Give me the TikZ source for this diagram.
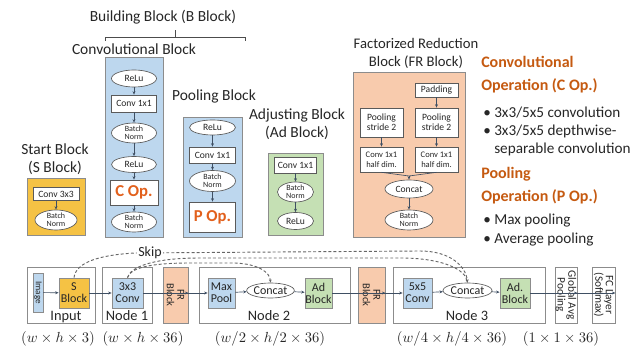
\documentclass[tikz,border=0pt]{standalone}
\usepackage{fontspec}
\setmainfont{Carlito}
\usetikzlibrary{shapes.geometric,arrows.meta}
\definecolor{cblue}{HTML}{BDD7EE}
\definecolor{cgold}{HTML}{F5C244}
\definecolor{cgreen}{HTML}{C5E0B4}
\definecolor{corange}{HTML}{F8CBAD}
\definecolor{opc}{HTML}{C55A11}
\definecolor{opbox}{HTML}{E2601C}
\definecolor{frame}{HTML}{8C8C8C}
\definecolor{innerc}{HTML}{5A5A5A}
\definecolor{txt}{HTML}{262626}
\definecolor{arrowc}{HTML}{3F4F63}
\begin{document}
\begin{tikzpicture}[x=0.75pt,y=-0.75pt,
  every node/.style={inner sep=0pt, text=txt},
  wh/.style 2 args={minimum width=#1*0.75pt, minimum height=#2*0.75pt},
  cont/.style={draw=frame, line width=0.6pt},
  ibox/.style={rectangle, draw=innerc, fill=white, line width=0.5pt, align=center,
    font=\fontsize{7.2}{7.4}\selectfont},
  iell/.style={ellipse, draw=innerc, fill=white, line width=0.5pt, align=center,
    font=\fontsize{7.2}{7.4}\selectfont},
  bn/.style={iell, font=\fontsize{6}{5.8}\selectfont},
  opnode/.style={rectangle, draw=innerc, fill=white, line width=0.5pt,
    font=\fontsize{12.5}{13}\selectfont\bfseries, text=opbox},
  arr/.style={-{Stealth[length=2.6pt,width=2.2pt]}, draw=arrowc, line width=0.5pt},
  title/.style={font=\fontsize{11.6}{13.5}\selectfont, align=center},
  bblk/.style={rectangle, draw=frame, line width=0.6pt, align=center,
    font=\fontsize{9}{9}\selectfont},
  vblk/.style={bblk, rotate=-90, font=\fontsize{8}{8}\selectfont},
  lbl/.style={font=\fontsize{10.8}{11}\selectfont},
  dimlbl/.style={font=\fontsize{10.5}{12}\selectfont},
  head/.style={anchor=west, font=\fontsize{12}{14}\selectfont\bfseries, text=opc},
  bul/.style={anchor=west, font=\fontsize{11.4}{13}\selectfont},
  skipline/.style={draw=black!60, line width=0.7pt, dash pattern=on 2.2pt off 1.6pt}
]
\useasboundingbox (0,0) rectangle (636,352);

% ---------- building block heading and brace ----------
\node[title] (bbt) at (163,17) {Building Block (B Block)};
\draw[draw=black!70, line width=0.5pt] (105,41) -- (105,37) -- (245,37) -- (245,41);
\draw[draw=black!70, line width=0.5pt] (175,37) -- (175,30);

% ---------- start block ----------
\node[title] (sbt) at (55,159) {Start Block\\(S Block)};
\draw[cont, fill=cgold] (27,178) rectangle (85,235);
\node[ibox, wh={46}{13}] (s1) at (56,194) {Conv 3x3};
\node[bn, wh={42}{20}] (s2) at (56,220) {Batch\\Norm};
\draw[arr] (s1) -- (s2);

% ---------- convolutional block ----------
\node[title] (cbt) at (134,49) {Convolutional Block};
\draw[cont, fill=cblue] (105,57) rectangle (163,237);
\node[iell, wh={45}{17}] (c1) at (134,78.5) {ReLu};
\node[ibox, wh={45}{17}] (c2) at (134,103.5) {Conv 1x1};
\node[bn, wh={45}{20}] (c3) at (134,133) {Batch\\Norm};
\node[iell, wh={45}{16}] (c4) at (134,164.5) {ReLu};
\node[opnode, wh={48}{25}] (c5) at (134,192.5) {C Op.};
\node[bn, wh={45}{20}] (c6) at (134,222) {Batch\\Norm};
\draw[arr] (c1) -- (c2);
\draw[arr] (c2) -- (c3);
\draw[arr] (c3) -- (c4);
\draw[arr] (c4) -- (c5);
\draw[arr] (c5) -- (c6);

% ---------- pooling block ----------
\node[title] (pbt) at (214,96) {Pooling Block};
\draw[cont, fill=cblue] (183,117) rectangle (242,237);
\node[iell, wh={46}{15}] (p1) at (212.5,127.5) {ReLu};
\node[ibox, wh={46}{16}] (p2) at (212.5,155) {Conv 1x1};
\node[bn, wh={46}{21}] (p3) at (212.5,181) {Batch\\Norm};
\node[opnode, wh={46}{30}] (p4) at (212.5,217) {P Op.};
\draw[arr] (p1) -- (p2);
\draw[arr] (p2) -- (p3);
\draw[arr] (p3) -- (p4);

% ---------- adjusting block ----------
\node[title] (abt) at (297,124) {Adjusting Block\\(Ad Block)};
\draw[cont, fill=cgreen] (268,153) rectangle (323,235);
\node[ibox, wh={42}{16}] (a1) at (295.5,165) {Conv 1x1};
\node[bn, wh={36}{20}] (a2) at (295.5,192) {Batch\\Norm};
\node[iell, wh={36}{17}] (a3) at (295.5,221) {ReLu};
\draw[arr] (a1) -- (a2);
\draw[arr] (a2) -- (a3);

% ---------- factorized reduction block ----------
\node[title, font=\fontsize{11}{13.5}\selectfont] (frt) at (416,53) {Factorized Reduction\\Block (FR Block)};
\draw[cont, fill=corange] (353,72) rectangle (465,237);
\node[ibox, wh={43}{14}] (f0) at (436.5,90) {Padding};
\node[ibox, wh={43}{29}] (f1) at (381.5,122.5) {Pooling\\stride 2};
\node[ibox, wh={43}{29}] (f2) at (436.5,122.5) {Pooling\\stride 2};
\node[ibox, wh={43}{25}, font=\fontsize{6.4}{7.2}\selectfont] (f3) at (381.5,159.5) {Conv 1x1\\half dim.};
\node[ibox, wh={43}{25}, font=\fontsize{6.4}{7.2}\selectfont] (f4) at (436.5,159.5) {Conv 1x1\\half dim.};
\node[iell, wh={48}{18}] (f5) at (409,189) {Concat};
\node[bn, wh={48}{20}] (f6) at (409,220) {Batch\\Norm};
\draw[arr] (f0) -- (f2);
\draw[arr] (f1) -- (f3);
\draw[arr] (f2) -- (f4);
\draw[arrowc, line width=0.5pt] (f3.south) -- (409,176);
\draw[arrowc, line width=0.5pt] (f4.south) -- (409,176);
\draw[arr] (409,176) -- (f5.north);
\draw[arr] (f5) -- (f6);

% ---------- operation lists ----------
\node[head] (h1) at (481,62) {Convolutional};
\node[head] (h2) at (481,86) {Operation (C Op.)};
\node[bul] (b1) at (483,113) {\textbullet\ 3x3/5x5 convolution};
\node[bul] (b2) at (483,131) {\textbullet\ 3x3/5x5 depthwise-};
\node[bul] (b3) at (494,149) {separable convolution};
\node[head] (h3) at (481,174) {Pooling};
\node[head] (h4) at (481,197) {Operation (P Op.)};
\node[bul] (b4) at (483,221) {\textbullet\ Max pooling};
\node[bul] (b5) at (483,240) {\textbullet\ Average pooling};

% ---------- network: containers ----------
\draw[cont] (27,267) rectangle (95,323);
\draw[cont] (102,267) rectangle (152,323);
\draw[cont] (199,267) rectangle (350,323);
\draw[cont] (393,267) rectangle (545,323);
\node[lbl, anchor=base] (lin) at (66,321) {Input};
\node[lbl, anchor=base] (ln1) at (127,321) {Node 1};
\node[lbl, anchor=base] (ln2) at (269,321) {Node 2};
\node[lbl, anchor=base] (ln3) at (467,321) {Node 3};

% ---------- network: layers ----------
\node[vblk, fill=cblue, wh={39}{10}, font=\fontsize{6.8}{6.8}\selectfont] (img) at (38,292.5) {Image};
\node[bblk, fill=cgold, wh={30}{30}] (sb) at (74,293) {S\\Block};
\node[bblk, fill=cblue, wh={31}{30}] (k3) at (127.5,293) {3x3\\Conv};
\node[vblk, fill=corange, wh={56}{25}] (fr1) at (175.5,295) {FR\\Block};
\node[bblk, fill=cblue, wh={27}{30}] (mp) at (221.5,293) {Max\\Pool};
\node[ellipse, draw=innerc, line width=0.5pt, fill=white, wh={45}{15}, font=\fontsize{9}{9}\selectfont] (cc2) at (270.5,290.5) {Concat};
\node[bblk, fill=cgreen, wh={27}{30}] (ad2) at (318.5,293) {Ad\\Block};
\node[vblk, fill=corange, wh={56}{27}] (fr2) at (371.5,295) {FR\\Block};
\node[bblk, fill=cblue, wh={29}{30}] (k5) at (417.5,293) {5x5\\Conv};
\node[ellipse, draw=innerc, line width=0.5pt, fill=white, wh={49}{15}, font=\fontsize{9}{9}\selectfont] (cc3) at (467.5,290.5) {Concat};
\node[bblk, fill=cgreen, wh={30}{30}] (ad3) at (515,293) {Ad.\\Block};
\node[vblk, fill=white, wh={56}{22}, font=\fontsize{8.5}{8}\selectfont] (gap) at (566,295) {Global Avg\\Pooling};
\node[vblk, fill=white, wh={56}{23}, font=\fontsize{8.5}{8}\selectfont] (fc) at (603.5,295) {FC Layer\\(Softmax)};

\draw[arr] (img) -- (sb);
\draw[arr] (sb) -- (k3);
\draw[arr] (k3) -- (k3 -| fr1.north);
\draw[arr] (fr1.south |- mp) -- (mp);
\draw[arr] (mp) -- (cc2);
\draw[arr] (cc2) -- (ad2);
\draw[arr] (ad2) -- (ad2 -| fr2.north);
\draw[arr] (fr2.south |- k5) -- (k5);
\draw[arr] (k5) -- (cc3);
\draw[arr] (cc3) -- (ad3);
\draw[arr] (ad3) -- (ad3 -| gap.north);
\draw[arr] (gap.south |- ad3) -- (ad3 -| fc.north);

% ---------- skip connections ----------
\draw[skipline, -{Stealth[length=2.4pt,width=2pt]}] (sb.north) .. controls (76,262) and (100,255) .. (135,253) -- (420,251) .. controls (450,251) and (466,266) .. (cc3.north);
\draw[skipline, -{Stealth[length=2.4pt,width=2pt]}] (k3.north) .. controls (130,268) and (150,258) .. (200,258) -- (405,258) .. controls (445,259) and (465,270) .. (cc3.north);
\draw[skipline, -{Stealth[length=2.4pt,width=2pt]}] (k3.north) .. controls (130,268) and (150,263) .. (190,263) -- (235,263) .. controls (258,264) and (270,272) .. (cc2.north);
\node[font=\fontsize{10.5}{11}\selectfont, fill=white, inner sep=0.8pt] (skip) at (150,253) {Skip};

% ---------- tensor shapes ----------
\node[dimlbl] (d0) at (58,339) {$(w\times h\times 3)$};
\node[dimlbl] (d1) at (143,339) {$(w\times h\times 36)$};
\node[dimlbl] (d2) at (270,339) {$(w/2\times h/2\times 36)$};
\node[dimlbl] (d3) at (452,339) {$(w/4\times h/4\times 36)$};
\node[dimlbl] (d4) at (561,339) {$(1\times 1\times 36)$};
\end{tikzpicture}
\end{document}
